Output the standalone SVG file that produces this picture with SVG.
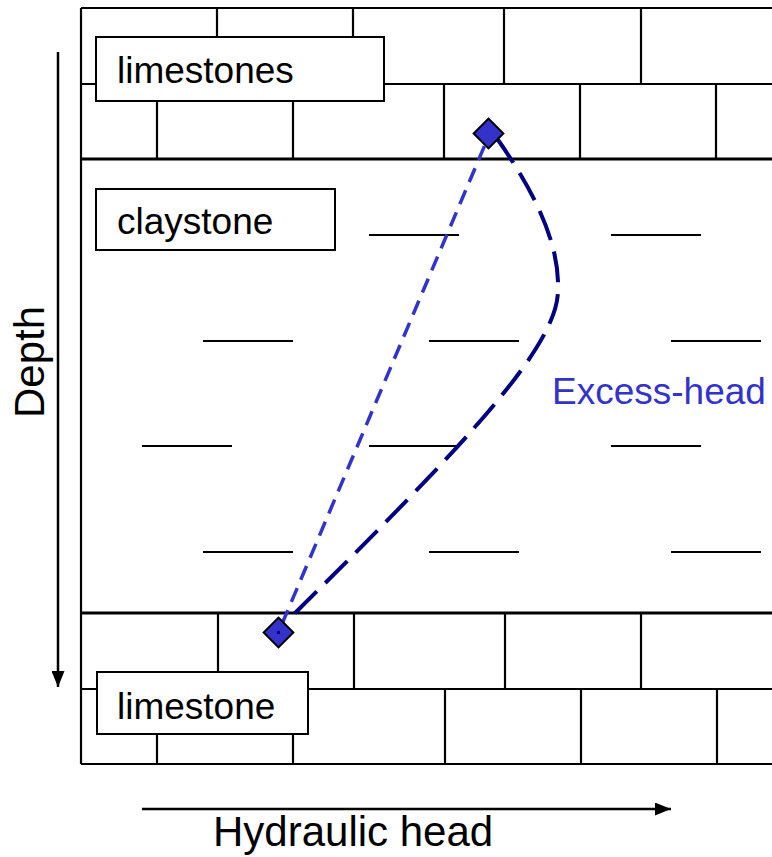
<svg xmlns="http://www.w3.org/2000/svg" width="772" height="857" viewBox="0 0 772 857">
<style>
.g{stroke:#000;stroke-width:2.2;fill:none}
.b{stroke:#000;stroke-width:3;fill:none}
.box{fill:#fff;stroke:#000;stroke-width:2}
.lbl{font-family:"Liberation Sans",Arial,sans-serif;font-size:37px;fill:#000}
.ax{font-family:"Liberation Sans",Arial,sans-serif;font-size:42px;fill:#000}
.dia{fill:#3333cc;stroke:#000;stroke-width:2}
</style>
<defs>
<marker id="ah" markerWidth="16" markerHeight="13" refX="16" refY="6.5" orient="auto" markerUnits="userSpaceOnUse" viewBox="0 0 16 13">
<path d="M0,0 L16,6.5 L0,13 z" fill="#000"/>
</marker>
</defs>
<rect width="772" height="857" fill="#fff"/>
<g id="strata">
<path class="g" d="M81 8 H772 M81 84 H772 M81 8 V764"/>
<path class="b" d="M81 159 H772 M81 613 H772"/>
<path class="g" d="M217 8 V84 M353 8 V84 M504 8 V84 M641 8 V84"/>
<path class="g" d="M157 84 V159 M293 84 V159 M444 84 V159 M580 84 V159 M716 84 V159"/>
<path class="g" d="M81 689 H772 M81 764 H772"/>
<path class="g" d="M218 613 V689 M354 613 V689 M505 613 V689 M641 613 V689"/>
<path class="g" d="M157 689 V764 M293 689 V764 M445 689 V764 M581 689 V764 M717 689 V764"/>
<path class="g" d="M369 235 H459 M611 235 H701 M203 341 H293 M429 341 H519 M671 341 H761 M142 446 H232 M369 446 H459 M611 446 H701 M203 552 H293 M429 552 H519 M671 552 H761"/>
</g>
<g id="label-limestones">
<rect class="box" x="96" y="37" width="288" height="64"/>
<text class="lbl" x="117" y="83">limestones</text>
</g>
<g id="label-claystone">
<rect class="box" x="96" y="189" width="239" height="61"/>
<text class="lbl" x="117" y="234">claystone</text>
</g>
<g id="label-limestone">
<rect class="box" x="97" y="672" width="211" height="62"/>
<text class="lbl" x="117" y="719">limestone</text>
</g>
<g id="connectors">
<path d="M282 624 L487 140" stroke="#3333cc" stroke-width="3.5" fill="none" stroke-dasharray="15 9"/>
<path d="M496 137 C530 185 560 240 558 290 C558 345 470 440 289 619" stroke="#000080" stroke-width="4" fill="none" stroke-dasharray="31 12"/>
<path d="M58 52 V687" stroke="#000" stroke-width="2.5" marker-end="url(#ah)"/>
<path d="M142 809 H671" stroke="#000" stroke-width="2.5" marker-end="url(#ah)"/>
</g>
<g id="point-top">
<rect class="dia" x="478" y="123" width="21" height="21" transform="rotate(45 488.5 133.5)"/>
</g>
<g id="point-bottom">
<rect class="dia" x="268" y="622" width="21" height="21" transform="rotate(45 278.5 632.5)"/>
<rect x="277" y="631" width="3" height="3" fill="#000080"/>
</g>
<g id="label-excess">
<text x="552" y="404" font-family="'Liberation Sans',Arial,sans-serif" font-size="37" fill="#3333cc">Excess-head</text>
</g>
<g id="axis-labels">
<text class="ax" x="213" y="846">Hydraulic head</text>
<text class="ax" transform="translate(44 418) rotate(-90)">Depth</text>
</g>
</svg>
